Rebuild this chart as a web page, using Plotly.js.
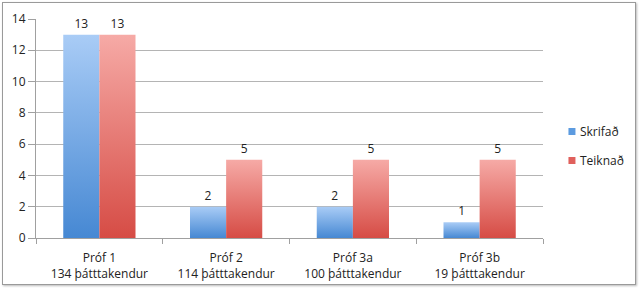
<!DOCTYPE html>
<html>
<head>
<meta charset="utf-8">
<script src="https://cdn.plot.ly/plotly-3.0.1.min.js"></script>
<style>
  html, body { margin: 0; padding: 0; background: #fff; }
  #wrap { position: relative; width: 640px; height: 289px; }
  #chart { position: absolute; left: 0; top: 0; width: 640px; height: 289px; }
  #frame { position: absolute; left: 2px; top: 2px; width: 632px; height: 281px; border: 1px solid #9a9a9a; box-shadow: 1px 1px 2px #bbb; pointer-events: none; }
</style>
</head>
<body>
<div id="wrap">
  <div id="chart"></div>
  <div id="frame"></div>
</div>
<script>
const categories = ["Próf 1<br>134 þátttakendur", "Próf 2<br>114 þátttakendur", "Próf 3a<br>100 þátttakendur", "Próf 3b<br>19 þátttakendur"];
const seriesNames = ["Skrifað", "Teiknað"];
const skrifad = [13, 2, 2, 1];
const teiknad = [13, 5, 5, 5];
const yTicks = [0, 2, 4, 6, 8, 10, 12, 14];

const FONT = "'Open Sans', 'DejaVu Sans', sans-serif";

const traces = [
  { type: "bar", name: seriesNames[0], x: categories, y: skrifad,
    marker: { color: "#6ea6e6" }, text: skrifad.map(String), textposition: "outside",
    cliponaxis: false, textfont: { size: 12, color: "#222" }, legendgroup: "a" },
  { type: "bar", name: seriesNames[1], x: categories, y: teiknad,
    marker: { color: "#e57a74" }, text: teiknad.map(String), textposition: "outside",
    cliponaxis: false, textfont: { size: 12, color: "#222" }, legendgroup: "b" }
];

const layout = {
  width: 640, height: 289,
  margin: { l: 36, r: 97, t: 19, b: 51, autoexpand: false },
  paper_bgcolor: "rgba(0,0,0,0)", plot_bgcolor: "rgba(0,0,0,0)",
  font: { family: FONT, size: 12, color: "#222" },
  barmode: "group", bargap: 0.43, bargroupgap: 0,
  showlegend: true,
  legend: { x: 0.994, xanchor: "left", y: 0.42, yanchor: "middle", traceorder: "grouped", tracegroupgap: 10,
            font: { size: 12, color: "#222" }, itemwidth: 30 },
  xaxis: { type: "category", showline: true, linecolor: "#a0a0a0", linewidth: 1,
           ticks: "outside", tickson: "boundaries", ticklen: 5, tickcolor: "#a0a0a0",
           ticklabelstandoff: 9,
           showgrid: false, tickfont: { size: 12, color: "#222" }, fixedrange: true },
  yaxis: { range: [0, 14], tickvals: yTicks, ticktext: yTicks.map(String), showline: true, linecolor: "#a0a0a0",
           ticks: "outside", ticklen: 7, tickcolor: "#a0a0a0", showgrid: true, gridcolor: "#b4b4b4",
           zeroline: false, tickfont: { size: 12, color: "#222" }, fixedrange: true }
};

Plotly.newPlot("chart", traces, layout, { staticPlot: true }).then(function (gd) {
  const svg = gd.querySelector("svg.main-svg");
  const ns = "http://www.w3.org/2000/svg";
  let defs = svg.querySelector("defs");
  if (!defs) { defs = document.createElementNS(ns, "defs"); svg.insertBefore(defs, svg.firstChild); }
  function grad(id, top, bottom) {
    const g = document.createElementNS(ns, "linearGradient");
    g.setAttribute("id", id); g.setAttribute("x1", "0"); g.setAttribute("y1", "0"); g.setAttribute("x2", "0"); g.setAttribute("y2", "1");
    [[0, top], [1, bottom]].forEach(function (s) {
      const st = document.createElementNS(ns, "stop");
      st.setAttribute("offset", s[0]); st.setAttribute("stop-color", s[1]); g.appendChild(st);
    });
    defs.appendChild(g);
  }
  grad("gBlue", "#a9ccf6", "#4688d3");
  grad("gRed", "#f6aaa6", "#d64c45");
  const ids = ["gBlue", "gRed"];
  gd.querySelectorAll(".barlayer .trace").forEach(function (tr, i) {
    tr.querySelectorAll("path").forEach(function (p) { p.style.fill = "url(#" + ids[i] + ")"; });
  });
  const legColors = ["#5c9be0", "#e0605c"];
  gd.querySelectorAll(".legend .traces").forEach(function (tr, i) {
    tr.querySelectorAll(".legendpoints path").forEach(function (p) {
      p.setAttribute("d", "M3.5,3.5H-3.5V-3.5H3.5Z");
      p.setAttribute("transform", "translate(32,0)");
      p.style.fill = legColors[i]; p.style.stroke = "none";
    });
  });
});
</script>
</body>
</html>
